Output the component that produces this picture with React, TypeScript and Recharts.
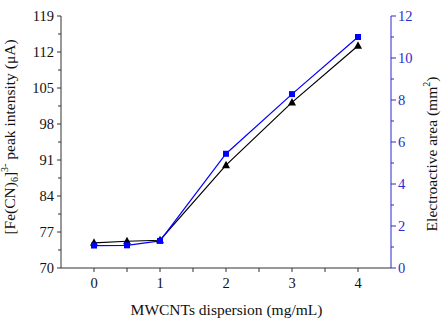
import { LineChart, Line, XAxis, YAxis, Label } from "recharts";

// MWCNTs dispersion concentration (mg/mL)
const dispersion = [0, 0.5, 1, 2, 3, 4];
// [Fe(CN)6]3- peak current (µA), left axis
const peakCurrent = [74.9, 75.2, 75.4, 90.0, 102.2, 113.2];
// electroactive area (mm²), right axis
const activeArea = [1.07, 1.08, 1.29, 5.44, 8.28, 11.0];

const xTicks = [0, 0.5, 1, 1.5, 2, 2.5, 3, 3.5, 4];
const leftTicks = [70, 73.5, 77, 80.5, 84, 87.5, 91, 94.5, 98, 101.5, 105, 108.5, 112, 115.5, 119];
const leftLabels = [70, 77, 84, 91, 98, 105, 112, 119];
const rightTicks = [0, 1, 2, 3, 4, 5, 6, 7, 8, 9, 10, 11, 12];
const rightLabels = [0, 2, 4, 6, 8, 10, 12];

const data = dispersion.map((x, i) => ({
  x,
  peak: peakCurrent[i],
  area: activeArea[i],
}));

const FONT = "'Liberation Serif', 'Times New Roman', serif";
const TICK_SIZE = 14.5;
const TITLE_SIZE = 15.5;
const AXIS = "#333";
const BLUE_AXIS = "#2b2bd0";
const BLUE = "#0000ff";

const BottomTick = ({ x, y, payload }: any) => {
  const major = Number.isInteger(payload.value);
  return (
    <g>
      <line x1={x} y1={y} x2={x} y2={y + 4} stroke={AXIS} />
      {major && (
        <text x={x} y={y + 20} textAnchor="middle" fontSize={TICK_SIZE} fontFamily={FONT} fill="#111">
          {payload.value}
        </text>
      )}
    </g>
  );
};

const TopTick = ({ x, y }: any) => (
  <line x1={x} y1={y} x2={x} y2={y + 4} stroke={AXIS} />
);

const LeftTick = ({ x, y, payload }: any) => {
  const major = leftLabels.includes(payload.value);
  return (
    <g>
      <line x1={x} y1={y} x2={x - (major ? 4 : 3)} y2={y} stroke={AXIS} />
      {major && (
        <text x={x - 7} y={y + 5} textAnchor="end" fontSize={TICK_SIZE} fontFamily={FONT} fill="#111">
          {payload.value}
        </text>
      )}
    </g>
  );
};

const RightTick = ({ x, y, payload }: any) => {
  const major = rightLabels.includes(payload.value);
  return (
    <g>
      <line x1={x} y1={y} x2={x + (major ? 5 : 3)} y2={y} stroke={BLUE_AXIS} />
      {major && (
        <text x={x + 7} y={y + 5} textAnchor="start" fontSize={TICK_SIZE} fontFamily={FONT} fill={BLUE_AXIS}>
          {payload.value}
        </text>
      )}
    </g>
  );
};

const TriangleDot = ({ cx, cy, index }: any) => (
  <polygon
    key={`t-${index}`}
    points={`${cx},${cy - 4.5} ${cx + 4},${cy + 3} ${cx - 4},${cy + 3}`}
    fill="#000"
  />
);

const SquareDot = ({ cx, cy, index }: any) => (
  <rect key={`s-${index}`} x={cx - 3} y={cy - 3} width={6} height={6} fill={BLUE} />
);

const LeftTitle = () => {
  const x = 15;
  const y = 137;
  return (
    <text
      x={x}
      y={y}
      transform={`rotate(-90, ${x}, ${y})`}
      textAnchor="middle"
      fontSize={TITLE_SIZE}
      fontFamily={FONT}
      fill="#111"
    >
      [Fe(CN)
      <tspan dy={3} fontSize={10}>6</tspan>
      <tspan dy={-3}>]</tspan>
      <tspan dy={-7} fontSize={10}>3-</tspan>
      <tspan dy={7}> peak intensity (μA)</tspan>
    </text>
  );
};

const RightTitle = () => {
  const x = 437;
  const y = 154;
  return (
    <text
      x={x}
      y={y}
      transform={`rotate(-90, ${x}, ${y})`}
      textAnchor="middle"
      fontSize={TITLE_SIZE}
      fontFamily={FONT}
      fill="#111"
    >
      Electroactive area (mm
      <tspan dy={-7} fontSize={10}>2</tspan>
      <tspan dy={7}>)</tspan>
    </text>
  );
};

const BottomTitle = () => (
  <text x={226.5} y={315} textAnchor="middle" fontSize={TITLE_SIZE} fontFamily={FONT} fill="#111">
    MWCNTs dispersion (mg/mL)
  </text>
);

export default function App() {
  return (
    <div style={{ position: "absolute", left: 0, top: 0, background: "#fff" }}>
      <LineChart
        width={448}
        height={323}
        data={data}
        margin={{ top: 16, right: 0, bottom: 0, left: 0 }}
      >
        <XAxis
          xAxisId="bottom"
          dataKey="x"
          type="number"
          domain={[-0.5, 4.5]}
          ticks={xTicks}
          interval={0}
          height={55}
          tickSize={0}
          tickMargin={0}
          tickLine={false}
          stroke={AXIS}
          tick={<BottomTick />}
        >
          <Label content={<BottomTitle />} />
        </XAxis>
        <XAxis
          xAxisId="top"
          orientation="top"
          dataKey="x"
          type="number"
          domain={[-0.5, 4.5]}
          ticks={xTicks}
          interval={0}
          height={0}
          tickSize={0}
          tickMargin={0}
          tickLine={false}
          stroke={AXIS}
          tick={<TopTick />}
        />
        <YAxis
          yAxisId="left"
          orientation="left"
          type="number"
          domain={[70, 119]}
          ticks={leftTicks}
          interval={0}
          width={61}
          tickSize={0}
          tickMargin={0}
          tickLine={false}
          stroke={AXIS}
          tick={<LeftTick />}
        >
          <Label content={<LeftTitle />} />
        </YAxis>
        <YAxis
          yAxisId="right"
          orientation="right"
          type="number"
          domain={[0, 12]}
          ticks={rightTicks}
          interval={0}
          width={57}
          tickSize={0}
          tickMargin={0}
          tickLine={false}
          stroke={BLUE_AXIS}
          tick={<RightTick />}
        >
          <Label content={<RightTitle />} />
        </YAxis>
        <Line
          xAxisId="bottom"
          yAxisId="left"
          dataKey="peak"
          stroke="#000"
          strokeWidth={1.2}
          dot={TriangleDot}
          isAnimationActive={false}
        />
        <Line
          xAxisId="bottom"
          yAxisId="right"
          dataKey="area"
          stroke={BLUE}
          strokeWidth={1.2}
          dot={SquareDot}
          isAnimationActive={false}
        />
      </LineChart>
    </div>
  );
}
